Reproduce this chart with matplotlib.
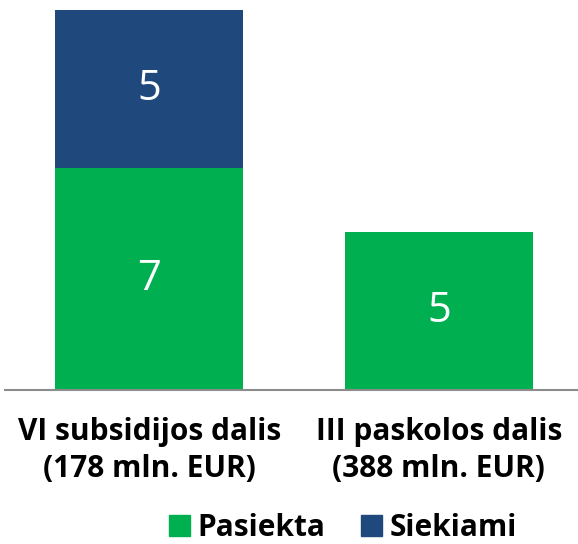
import matplotlib
matplotlib.use("Agg")
import matplotlib.pyplot as plt
from matplotlib.patches import Patch
import numpy as np

categories = ["VI subsidijos dalis\n(178 mln. EUR)", "III paskolos dalis\n(388 mln. EUR)"]
pasiekta = [7, 5]
siekiami = [5, 0]
series_names = ["Pasiekta", "Siekiami"]

green = "#00B050"
navy = "#1F497D"
FONT = "Open Sans"

fig = plt.figure(figsize=(5.78, 5.44), dpi=100)
ax = fig.add_axes([4.5/578, (544-390)/544, 579/578, 380/544])

x = np.arange(len(categories))
ax.bar(x, pasiekta, width=0.65, color=green)
ax.bar(x, siekiami, width=0.65, bottom=pasiekta, color=navy)

for i in range(len(categories)):
    if pasiekta[i]:
        ax.text(x[i], pasiekta[i] / 2, str(pasiekta[i]), ha="center", va="center",
                color="white", fontsize=30, family=FONT)
    if siekiami[i]:
        ax.text(x[i], pasiekta[i] + siekiami[i] / 2, str(siekiami[i]), ha="center", va="center",
                color="white", fontsize=30, family=FONT)

ax.set_xlim(-0.5, 1.5)
ax.set_ylim(0, 12)
ax.set_xticks(x)
ax.set_xticklabels(categories, fontsize=21.5, fontweight="bold", family=FONT, linespacing=1.32)
ax.tick_params(axis="x", length=0, pad=19.5)
ax.set_yticks([])
for s in ["top", "right", "left"]:
    ax.spines[s].set_visible(False)
ax.spines["bottom"].set_color("#8c8c8c")
ax.spines["bottom"].set_linewidth(1.5)

handles = [Patch(color=green), Patch(color=navy)]
fig.legend(handles, series_names, loc="lower center", bbox_to_anchor=(343/578, -0.048),
           ncol=2, frameon=False, handlelength=0.7, handleheight=0.7, handletextpad=0.25,
           columnspacing=1.2, prop={"family": FONT, "weight": "bold", "size": 21.5})

fig.savefig("out.png", dpi=100)
